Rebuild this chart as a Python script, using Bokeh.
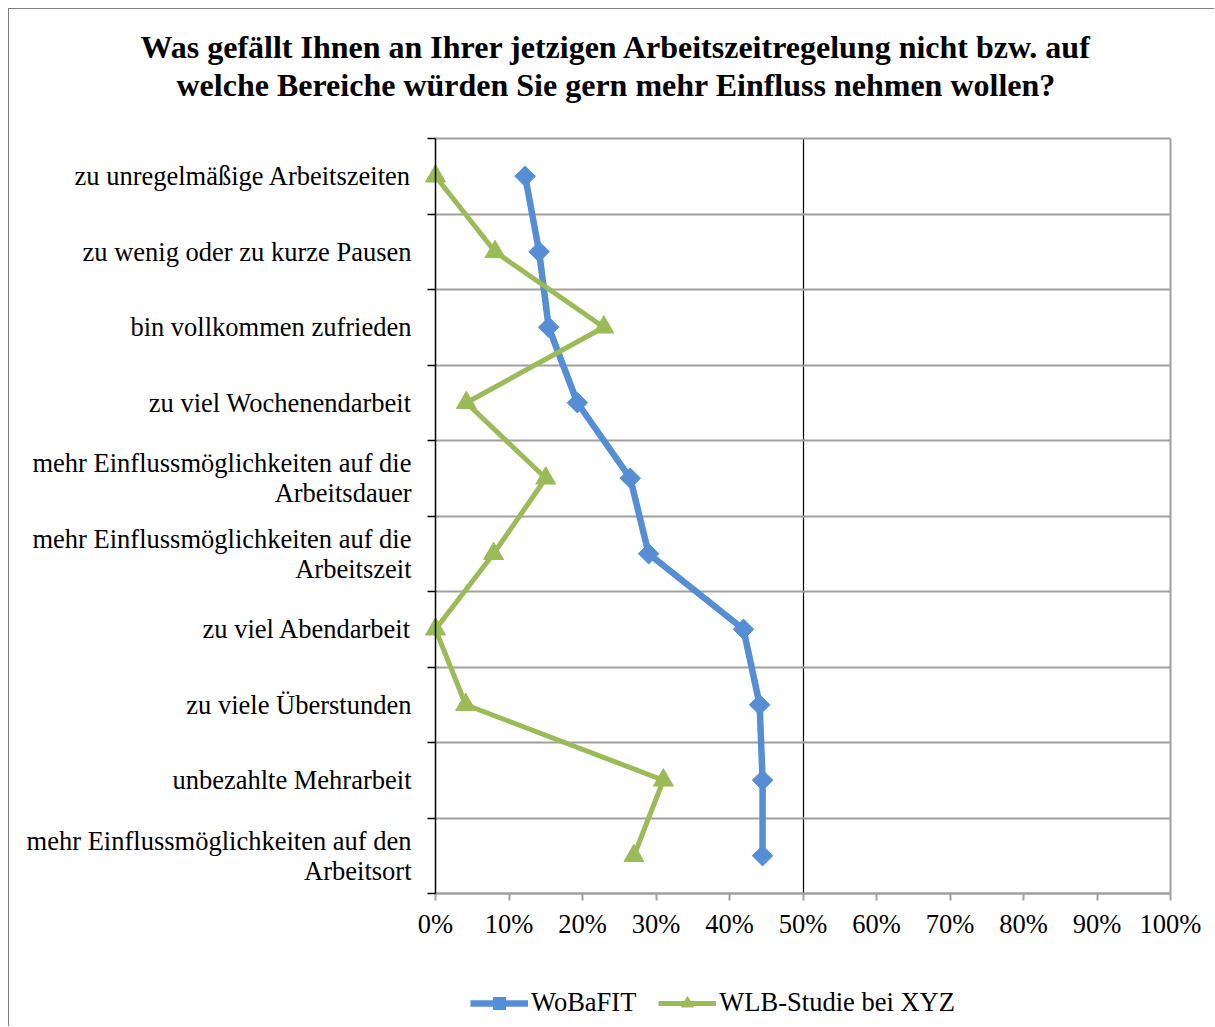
import numpy as np
from bokeh.plotting import figure
from bokeh.models import (Range1d, FixedTicker, CustomJSTickFormatter, Legend,
                          LegendItem, Title, Grid, ColumnDataSource)
from bokeh.embed import file_html
from bokeh.resources import INLINE

# ---------------- data ----------------
title_line1 = "Was gefällt Ihnen an Ihrer jetzigen Arbeitszeitregelung nicht bzw. auf"
title_line2 = "welche Bereiche würden Sie gern mehr Einfluss nehmen wollen?"

categories = [
    "zu unregelmäßige Arbeitszeiten",
    "zu wenig oder zu kurze Pausen",
    "bin vollkommen zufrieden",
    "zu viel Wochenendarbeit",
    "mehr Einflussmöglichkeiten auf die\nArbeitsdauer",
    "mehr Einflussmöglichkeiten auf die\nArbeitszeit",
    "zu viel Abendarbeit",
    "zu viele Überstunden",
    "unbezahlte Mehrarbeit",
    "mehr Einflussmöglichkeiten auf den\nArbeitsort",
]

wobafit = [12.2, 14.1, 15.4, 19.3, 26.5, 29.0, 41.9, 44.1, 44.5, 44.5]
wlb_studie = [0.0, 8.1, 22.9, 4.2, 15.0, 7.9, 0.0, 4.1, 31.0, 27.0]

series_names = ["WoBaFIT", "WLB-Studie bei XYZ"]
x_ticks = [0, 10, 20, 30, 40, 50, 60, 70, 80, 90, 100]

# ---------------- style / layout ----------------
FONT = "Liberation Serif"
BLUE = "#558ED5"
GREEN = "#9BBB59"
GRID = "#a0a0a0"
FS = "26.5px"

W, H = 1206, 1018          # canvas size
FRAME_TOP = 120            # drawing area starts under the title block
PLOT_LEFT, PLOT_TOP = 426, 129   # pixel position of the category area
PLOT_W, ROW_PX = 735, 75.5       # width of 0..100 %, height of one row

n = len(categories)
ypos = np.arange(n) + 0.5
bounds = list(range(n + 1))

px_per_pct = PLOT_W / 100.0
x_lo = -PLOT_LEFT / px_per_pct
x_hi = (W - PLOT_LEFT) / px_per_pct
y_top = -(PLOT_TOP - FRAME_TOP) / ROW_PX
y_bottom = (H - PLOT_TOP) / ROW_PX

src = ColumnDataSource(dict(y=ypos, wob=wobafit, wlb=wlb_studie))

p = figure(width=W, height=H, output_backend="svg", toolbar_location=None,
           x_range=Range1d(x_lo, x_hi), y_range=Range1d(y_bottom, y_top),
           min_border_left=0, min_border_right=0,
           min_border_top=FRAME_TOP, min_border_bottom=0)
p.styles = {"margin-left": "8px", "margin-top": "8px",
            "border-left": "1px solid #808080", "border-top": "1px solid #808080"}
p.background_fill_color = "white"
p.border_fill_color = "white"
p.outline_line_color = None
p.title.text = ""

# grids (limited to the category area)
p.ygrid.ticker = FixedTicker(ticks=bounds)
p.ygrid.grid_line_color = GRID
p.ygrid.grid_line_width = 2
p.ygrid.cross_bounds = (0, 100)
p.xgrid.ticker = FixedTicker(ticks=[50])
p.xgrid.grid_line_color = "black"
p.xgrid.grid_line_width = 1.2
p.xgrid.cross_bounds = (0, n)
right_edge = Grid(dimension=0, ticker=FixedTicker(ticks=[100]),
                  grid_line_color=GRID, grid_line_width=2, cross_bounds=(0, n))
p.add_layout(right_edge)

# x axis along the bottom edge of the category area
xa = p.xaxis[0]
xa.fixed_location = n
xa.bounds = (0, 100)
xa.ticker = FixedTicker(ticks=x_ticks)
xa.formatter = CustomJSTickFormatter(code="return tick.toFixed(0) + '%';")
xa.axis_line_color = GRID
xa.axis_line_width = 2
xa.major_tick_line_color = GRID
xa.major_tick_line_width = 2
xa.major_tick_in = 0
xa.major_tick_out = 7
xa.minor_tick_line_color = None
xa.major_label_standoff = 8
xa.major_label_text_font = FONT
xa.major_label_text_font_size = FS
xa.major_label_text_color = "black"

# y axis along the left edge (0 %)
ya = p.yaxis[0]
ya.fixed_location = 0
ya.bounds = (0, n)
ya.ticker = FixedTicker(ticks=list(ypos), minor_ticks=bounds)
ya.formatter = CustomJSTickFormatter(args=dict(labels=categories),
                                     code="return labels[Math.round(tick - 0.5)];")
ya.axis_line_color = "black"
ya.axis_line_width = 1.5
ya.major_tick_in = 0
ya.major_tick_out = 0
ya.major_tick_line_color = None
ya.minor_tick_in = 0
ya.minor_tick_out = 8
ya.minor_tick_line_color = "black"
ya.minor_tick_line_width = 1.5
ya.major_label_standoff = 16
ya.major_label_text_font = FONT
ya.major_label_text_font_size = FS
ya.major_label_text_color = "black"
ya.major_label_text_line_height = 1.0

# series
l1 = p.line("wob", "y", source=src, line_color=BLUE, line_width=6.5, line_join="round")
s1 = p.scatter("wob", "y", source=src, marker="square", angle=np.pi / 4, size=14.5,
               fill_color=BLUE, line_color=BLUE)
l2 = p.line("wlb", "y", source=src, line_color=GREEN, line_width=5, line_join="round")
s2 = p.scatter("wlb", "y", source=src, marker="triangle", size=20,
               fill_color=GREEN, line_color=GREEN)

legend = Legend(items=[LegendItem(label=series_names[0], renderers=[l1, s1]),
                       LegendItem(label=series_names[1], renderers=[l2, s2])],
                orientation="horizontal", location=(PLOT_LEFT + 35, 9),
                padding=0, margin=0, spacing=22, glyph_width=58, glyph_height=30,
                label_standoff=3, border_line_color=None, background_fill_alpha=0,
                label_text_font=FONT, label_text_font_size=FS,
                label_text_color="black")
p.add_layout(legend)

# ---- above: gap, title line 2, title line 1 ----
gap_above = Title(text=" ", text_font_size="1px", standoff=24)
p.add_layout(gap_above, "above")

t2 = Title(text=title_line2, align="left", offset=167, standoff=0,
           vertical_align="bottom", text_font=FONT, text_font_size="32px",
           text_font_style="bold", text_color="black")
p.add_layout(t2, "above")
t1 = Title(text=title_line1, align="left", offset=131, standoff=0,
           vertical_align="bottom", text_font=FONT, text_font_size="32px",
           text_font_style="bold", text_color="black")
p.add_layout(t1, "above")

open("out.html", "w").write(file_html(p, INLINE))
